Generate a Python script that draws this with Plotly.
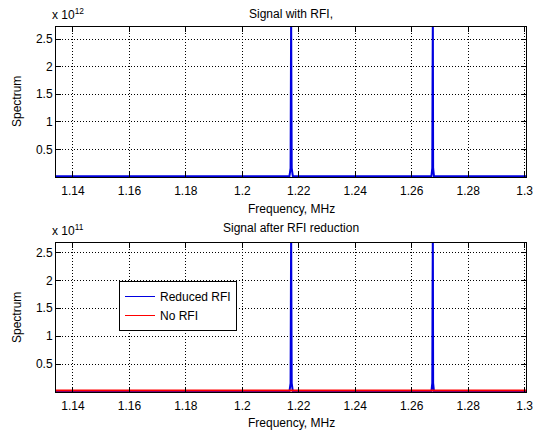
import plotly.graph_objects as go

# ---- data ----
freq_mhz = [1.134, 1.2167, 1.2171, 1.2173, 1.2175, 1.2179,
            1.2670, 1.2673, 1.2674, 1.2675, 1.2676, 1.2679, 1.3005]
spec_rfi = [1.5e10, 1.5e10, 1.6e11, 2.9e12, 1.6e11, 1.5e10,
            1.5e10, 1.6e11, 1.76e12, 2.9e12, 1.6e11, 1.5e10, 1.5e10]
spec_reduced = [1.0e9, 1.0e9, 1.6e10, 2.9e11, 1.6e10, 1.0e9,
                1.0e9, 1.6e10, 1.76e11, 2.9e11, 1.6e10, 1.0e9, 1.0e9]
norfi_freq = [1.134, 1.3005]
norfi_spec = [2.5e9, 2.5e9]

x_ticks = [1.14, 1.16, 1.18, 1.2, 1.22, 1.24, 1.26, 1.28, 1.3]
x_ticktext = ["1.14", "1.16", "1.18", "1.2", "1.22", "1.24", "1.26", "1.28", "1.3"]
y_tick_units = [0.5, 1, 1.5, 2, 2.5]
y_ticktext = ["0.5", "1", "1.5", "2", "2.5"]
top_exp = 12
bot_exp = 11

W, H = 533, 438
FONT = "Liberation Sans, Arial, Helvetica, sans-serif"
BLUE = "#0000E0"
RED = "#FF0000"

fig = go.Figure()
fig.add_trace(go.Scatter(x=freq_mhz, y=spec_rfi, mode="lines",
                         line=dict(color=BLUE, width=2),
                         showlegend=False, xaxis="x", yaxis="y"))
fig.add_trace(go.Scatter(x=freq_mhz, y=spec_reduced, mode="lines",
                         line=dict(color=BLUE, width=2), showlegend=False,
                         xaxis="x2", yaxis="y2"))
fig.add_trace(go.Scatter(x=norfi_freq, y=norfi_spec, mode="lines",
                         line=dict(color=RED, width=2), showlegend=False,
                         xaxis="x2", yaxis="y2"))
# legend entries (thin sample lines as in the reference)
fig.add_trace(go.Scatter(x=[None], y=[None], mode="lines", name="Reduced RFI",
                         line=dict(color=BLUE, width=1), xaxis="x2", yaxis="y2"))
fig.add_trace(go.Scatter(x=[None], y=[None], mode="lines", name="No RFI",
                         line=dict(color=RED, width=1), xaxis="x2", yaxis="y2"))

def px(x):
    return x / W

def py(y):
    return 1 - y / H

common_x = dict(range=[1.134, 1.3005], tickvals=x_ticks, ticktext=x_ticktext,
                showgrid=True, gridcolor="black", griddash="1px,2px", gridwidth=1,
                zeroline=False, showline=True, linecolor="black", linewidth=1,
                mirror="ticks", ticks="inside", ticklen=5, tickcolor="black",
                ticklabeloverflow="allow", ticklabelstandoff=3, automargin=False,
                tickfont=dict(family=FONT, size=12, color="black"))

def yaxis(exp, top, dom, anchor):
    scale = 10 ** exp
    return dict(range=[0, top * scale], tickvals=[v * scale for v in y_tick_units],
                ticktext=y_ticktext, domain=dom, anchor=anchor, automargin=False,
                showgrid=True, gridcolor="black", griddash="1px,2px", gridwidth=1,
                zeroline=False, showline=True, linecolor="black", linewidth=1,
                mirror="ticks", ticks="inside", ticklen=5, tickcolor="black",
                tickfont=dict(family=FONT, size=12, color="black"))

xdom = [px(56), px(526)]
fig.update_layout(
    width=W, height=H,
    margin=dict(l=0, r=0, t=0, b=0),
    paper_bgcolor="white", plot_bgcolor="white",
    font=dict(family=FONT, size=12, color="black"),
    xaxis=dict(domain=xdom, anchor="y", **common_x),
    yaxis=yaxis(top_exp, 2.72, [py(177), py(27)], "x"),
    xaxis2=dict(domain=xdom, anchor="y2", **common_x),
    yaxis2=yaxis(bot_exp, 2.67, [py(392), py(243)], "x2"),
    legend=dict(x=px(119), y=py(281), xanchor="left", yanchor="top",
                bgcolor="white", bordercolor="black", borderwidth=1,
                font=dict(family=FONT, size=12, color="black"),
                entrywidth=95, tracegroupgap=0),
)

cx = (56 + 526) / 2
ann = [
    ("Signal with RFI,", cx, 14, 0),
    ("Frequency, MHz", cx, 209, 0),
    ("Signal after RFI reduction", cx, 228, 0),
    ("Frequency, MHz", cx, 423, 0),
    ("Spectrum", 17, 102, -90),
    ("Spectrum", 17, 318, -90),
    ("x 10<sup>%d</sup>" % top_exp, 68, 14, 0),
    ("x 10<sup>%d</sup>" % bot_exp, 68, 230, 0),
]
for text, x, y, ang in ann:
    fig.add_annotation(text=text, x=px(x), y=py(y), xref="paper", yref="paper",
                       showarrow=False, textangle=ang, xanchor="center", yanchor="middle",
                       font=dict(family=FONT, size=12, color="black"))

fig.write_html("out.html")
